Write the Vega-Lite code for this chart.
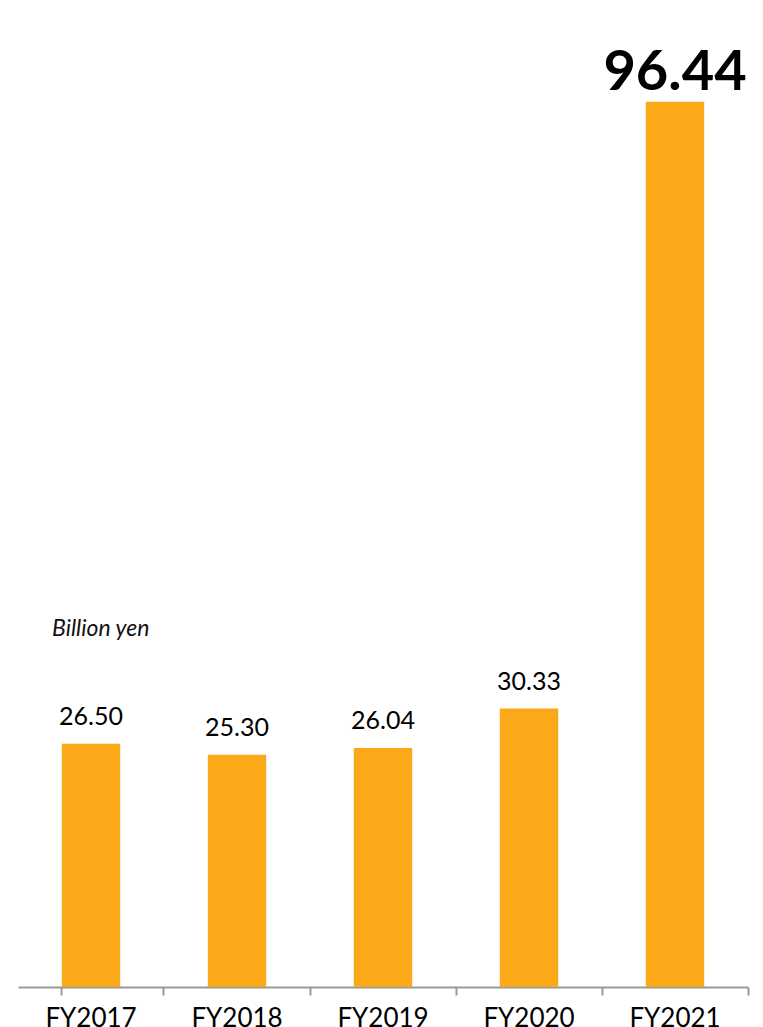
{
  "$schema": "https://vega.github.io/schema/vega-lite/v6.json",
  "autosize": {"type": "none"},
  "width": 730,
  "height": 918,
  "padding": {"left": 18, "top": 69, "right": 15, "bottom": 40},
  "background": "white",
  "config": {"view": {"stroke": null}, "font": "Lato"},
  "layer": [
    {
      "data": {"name": "main", "values": [
        {"year": "FY2017", "value": 26.50, "label": "26.50", "big": false},
        {"year": "FY2018", "value": 25.30, "label": "25.30", "big": false},
        {"year": "FY2019", "value": 26.04, "label": "26.04", "big": false},
        {"year": "FY2020", "value": 30.33, "label": "30.33", "big": false},
        {"year": "FY2021", "value": 96.44, "label": "96.44", "big": true}
      ]},
      "encoding": {
        "x": {
          "field": "year", "type": "nominal", "sort": null,
          "scale": {"paddingInner": 0.6, "paddingOuter": 0.3},
          "axis": {
            "title": null, "labelAngle": 0, "labelFontSize": 26, "labelColor": "#000000",
            "labelFont": "Lato", "labelBaseline": "top", "labelPadding": 10, "labelAlign": "center",
            "domainColor": "#999999", "domainWidth": 2, "ticks": true, "tickColor": "#999999", "tickWidth": 2,
            "tickSize": 8, "bandPosition": 1.75, "tickExtra": true, "grid": false
          }
        },
        "y": {
          "field": "value", "type": "quantitative",
          "scale": {"domain": [0, 100]},
          "axis": null
        }
      },
      "layer": [
        {"mark": {"type": "bar", "color": "#FBA919"}},
        {
          "transform": [{"filter": "!datum.big"}],
          "mark": {"type": "text", "baseline": "alphabetic", "dy": -19, "fontSize": 25, "color": "#000000", "font": "Lato"},
          "encoding": {"text": {"field": "label"}}
        },
        {
          "transform": [{"filter": "datum.big"}],
          "mark": {"type": "text", "baseline": "alphabetic", "dy": -12, "fontSize": 56, "fontWeight": "bold", "color": "#000000", "font": "Lato"},
          "encoding": {"text": {"field": "label"}}
        }
      ]
    },
    {
      "data": {"values": [{"note": "Billion yen"}]},
      "mark": {"type": "text", "align": "left", "baseline": "middle", "fontSize": 23, "fontStyle": "italic", "color": "#111111", "font": "Lato", "dx": -39},
      "encoding": {
        "x": {"datum": "FY2017", "type": "nominal"},
        "y": {"datum": 39, "type": "quantitative"},
        "text": {"field": "note"}
      }
    }
  ]
}
